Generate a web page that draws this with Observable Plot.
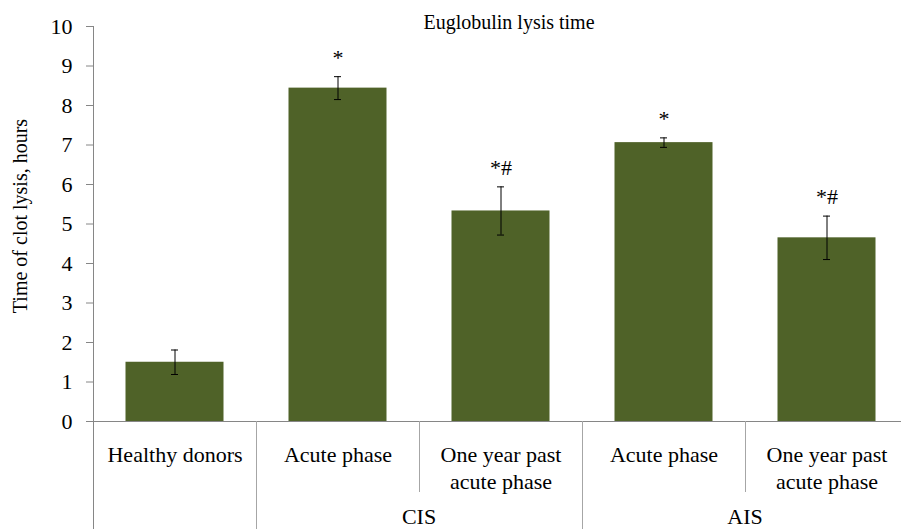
<!DOCTYPE html>
<html><head><meta charset="utf-8">
<script src="https://cdn.jsdelivr.net/npm/d3@7"></script>
<script src="https://cdn.jsdelivr.net/npm/@observablehq/plot@0.6"></script>
<style>html,body{margin:0;padding:0;background:#fff;font-family:serif} svg{display:block}</style>
</head><body><div id="chart"></div>
<script>
const categories = ["HD", "CIS-acute", "CIS-year", "AIS-acute", "AIS-year"];
const catLabels = ["Healthy donors", "Acute phase", "One year past\nacute phase", "Acute phase", "One year past\nacute phase"];
const groups = ["", "CIS", "CIS", "AIS", "AIS"];
const groupNames = ["CIS", "AIS"];
const values = [1.50, 8.44, 5.33, 7.06, 4.65];
const errors = [0.31, 0.29, 0.61, 0.12, 0.55];
const signif = ["", "*", "*#", "*", "*#"];
const yTicks = [0, 1, 2, 3, 4, 5, 6, 7, 8, 9, 10];
const title = "Euglobulin lysis time";
const yLabel = "Time of clot lysis, hours";

const data = categories.map((c, i) => ({
  cat: c, label: catLabels[i], group: groups[i], value: values[i], err: errors[i],
  lo: values[i] - errors[i], hi: values[i] + errors[i], sig: signif[i]
}));

const font = "serif";
const axisGray = "#868686";

const chart = Plot.plot({
  width: 901, height: 529,
  marginTop: 26, marginBottom: 108, marginLeft: 93, marginRight: -7,
  style: {fontFamily: font, fontSize: "22px", color: "#000", background: "#fff", overflow: "visible"},
  x: {domain: categories, type: "band", padding: 0, axis: null},
  y: {domain: [0, 10], axis: null},
  marks: [
    Plot.barY(data, {x: "cat", y: "value", fill: "#4f6228", insetLeft: 32.5, insetRight: 32.5}),
    Plot.ruleX(data, {x: "cat", y1: "lo", y2: "hi", stroke: "#000", strokeWidth: 1}),
    Plot.tickY(data, {x: "cat", y: "lo", stroke: "#000", insetLeft: 78, insetRight: 78}),
    Plot.tickY(data, {x: "cat", y: "hi", stroke: "#000", insetLeft: 78, insetRight: 78}),
    Plot.text(data.filter(d => d.sig), {x: "cat", y: "hi", text: "sig", dy: -19, fontSize: 22, lineAnchor: "middle"}),
    Plot.axisY({ticks: yTicks, tickSize: 7, tickPadding: 14, stroke: axisGray, fill: "#000", fontSize: 22, label: null}),
    Plot.text(data, {x: "cat", text: "label", frameAnchor: "bottom", lineAnchor: "top", dy: 21, lineHeight: 1.23, fontSize: 22, fill: "#000"}),
    Plot.text([title], {frameAnchor: "top", dx: 8, dy: -4, lineAnchor: "middle", fontSize: 20, fill: "#000"}),
    Plot.text([yLabel], {frameAnchor: "left", textAnchor: "middle", rotate: -90, dx: -73, dy: -8, fontSize: 20, fill: "#000"})
  ]
});

document.getElementById("chart").appendChild(chart);
d3.select(chart).selectAll("text").attr("font-family", font);

// Category axis lines and group separators, positioned from Plot's own scales
const xs = chart.scale("x"), ys = chart.scale("y");
const x0 = xs.range[0], x1 = xs.range[1];
const yBase = ys.apply(0), yTop = ys.apply(10);
const svg = d3.select(chart);
const g = svg.append("g").attr("fill", "none").attr("stroke", axisGray).attr("stroke-width", 1).attr("shape-rendering", "crispEdges");
g.append("line").attr("x1", x0).attr("x2", x0).attr("y1", yTop).attr("y2", 529);
g.append("line").attr("x1", x0 - 7).attr("x2", x1).attr("y1", yBase).attr("y2", yBase);
categories.forEach((c, i) => {
  if (i === 0) return;
  const xb = xs.apply(c);
  const outer = groups[i] !== groups[i - 1];
  g.append("line").attr("x1", xb).attr("x2", xb).attr("y1", yBase).attr("y2", outer ? 529 : 492).attr("stroke", "#a6a6a6");
});
const gt = svg.append("g").attr("font-family", font).attr("font-size", 22).attr("text-anchor", "middle").attr("fill", "#000");
groupNames.forEach(gn => {
  const cs = categories.filter((c, i) => groups[i] === gn);
  const cx = d3.mean(cs, c => xs.apply(c) + xs.bandwidth / 2);
  gt.append("text").attr("x", cx).attr("y", 524).text(gn);
});
</script>
</body></html>
